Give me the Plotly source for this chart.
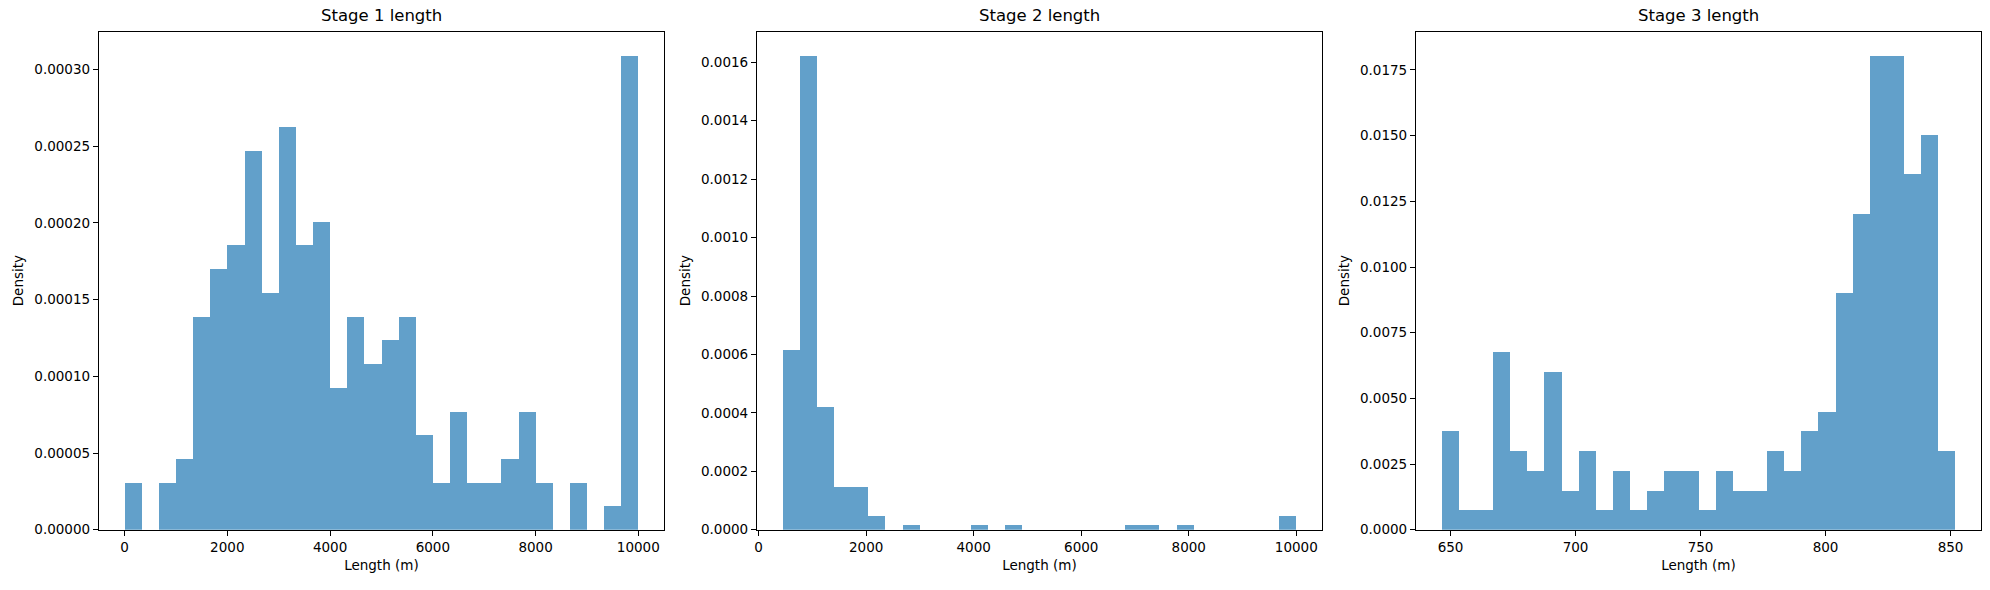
import numpy as np
import plotly.graph_objects as go

# ---- data ----
titles = ["Stage 1 length", "Stage 2 length", "Stage 3 length"]

stage1_range = [0.0, 10000.0]
stage1_density = [3.09e-5, 0.0, 3.09e-5, 4.64e-5, 1.392e-4, 1.701e-4, 1.856e-4, 2.474e-4,
                  1.546e-4, 2.629e-4, 1.856e-4, 2.010e-4, 9.28e-5, 1.392e-4, 1.082e-4, 1.237e-4,
                  1.392e-4, 6.19e-5, 3.09e-5, 7.73e-5, 3.09e-5, 3.09e-5, 4.64e-5, 7.73e-5,
                  3.09e-5, 0.0, 3.09e-5, 0.0, 1.55e-5, 3.093e-4]

stage2_range = [446.0, 10000.0]
stage2_density = [6.17e-4, 1.624e-3, 4.23e-4, 1.49e-4, 1.49e-4, 5.0e-5, 0.0, 1.65e-5,
                  0.0, 0.0, 0.0, 1.65e-5, 0.0, 1.65e-5, 0.0, 0.0,
                  0.0, 0.0, 0.0, 0.0, 1.65e-5, 1.65e-5, 0.0, 1.65e-5,
                  0.0, 0.0, 0.0, 0.0, 0.0, 5.0e-5]

stage3_range = [646.4, 851.9]
stage3_density = [3.76e-3, 7.5e-4, 7.5e-4, 6.77e-3, 3.01e-3, 2.26e-3, 6.02e-3, 1.5e-3,
                  3.01e-3, 7.5e-4, 2.26e-3, 7.5e-4, 1.5e-3, 2.26e-3, 2.26e-3, 7.5e-4,
                  2.26e-3, 1.5e-3, 1.5e-3, 3.01e-3, 2.26e-3, 3.76e-3, 4.51e-3, 9.03e-3,
                  1.204e-2, 1.806e-2, 1.806e-2, 1.355e-2, 1.505e-2, 3.01e-3]

x_ticks = [[0, 2000, 4000, 6000, 8000, 10000],
           [0, 2000, 4000, 6000, 8000, 10000],
           [650, 700, 750, 800, 850]]
y_ticks = [[0, 0.00005, 0.00010, 0.00015, 0.00020, 0.00025, 0.00030],
           [0, 0.0002, 0.0004, 0.0006, 0.0008, 0.0010, 0.0012, 0.0014, 0.0016],
           [0, 0.0025, 0.0050, 0.0075, 0.0100, 0.0125, 0.0150, 0.0175]]
y_fmt = [".5f", ".4f", ".4f"]

x_label = "Length (m)"
y_label = "Density"

# ---- layout ----
W, H = 1990, 590
x_px = [(96, 662), (755, 1321), (1415, 1981)]
y_px = (32, 537)
bar_color = "#1f77b4"
font_family = "DejaVu Sans, Arial, sans-serif"

fig = go.Figure()
ranges = [stage1_range, stage2_range, stage3_range]
densities = [stage1_density, stage2_density, stage3_density]

y_dom = [1 - y_px[1] / H, 1 - y_px[0] / H]

for i in range(3):
    lo, hi = ranges[i]
    dens = densities[i]
    edges = np.linspace(lo, hi, len(dens) + 1)
    centers = (edges[:-1] + edges[1:]) / 2
    widths = np.diff(edges)
    xa = "x" if i == 0 else f"x{i+1}"
    ya = "y" if i == 0 else f"y{i+1}"
    fig.add_trace(go.Bar(x=centers, y=dens, width=widths, xaxis=xa, yaxis=ya,
                         marker=dict(color=bar_color, opacity=0.7, line=dict(width=0)),
                         showlegend=False, hoverinfo="x+y"))

    span = hi - lo
    xr = [lo - 0.05 * span, hi + 0.05 * span]
    yr = [0, max(dens) * 1.05]
    axis_common = dict(showline=True, linecolor="black", linewidth=1, mirror=True,
                       ticks="outside", ticklen=5, tickwidth=1, tickcolor="black",
                       showgrid=False, zeroline=False,
                       tickfont=dict(family=font_family, size=13.5, color="black"))
    xkey = "xaxis" if i == 0 else f"xaxis{i+1}"
    ykey = "yaxis" if i == 0 else f"yaxis{i+1}"
    fig.update_layout({
        xkey: dict(domain=[x_px[i][0] / W, x_px[i][1] / W], range=xr, anchor=ya,
                   tickvals=x_ticks[i], ticktext=[str(v) for v in x_ticks[i]],
                   title=dict(text=x_label, font=dict(family=font_family, size=13.5, color="black"),
                              standoff=6),
                   **axis_common),
        ykey: dict(domain=y_dom, range=yr, anchor=xa,
                   tickvals=y_ticks[i], tickformat=y_fmt[i],
                   title=dict(text=y_label, font=dict(family=font_family, size=13.5, color="black"),
                              standoff=7),
                   **axis_common),
    })
    fig.add_annotation(text=titles[i], xref="paper", yref="paper",
                       x=(x_px[i][0] + x_px[i][1]) / 2 / W, y=y_dom[1],
                       xanchor="center", yanchor="bottom", yshift=5, showarrow=False,
                       font=dict(family=font_family, size=16.5, color="black"))

fig.update_layout(width=W, height=H, margin=dict(l=0, r=0, t=0, b=0),
                  paper_bgcolor="white", plot_bgcolor="white", bargap=0,
                  font=dict(family=font_family, color="black"))

fig.write_html("out.html")
